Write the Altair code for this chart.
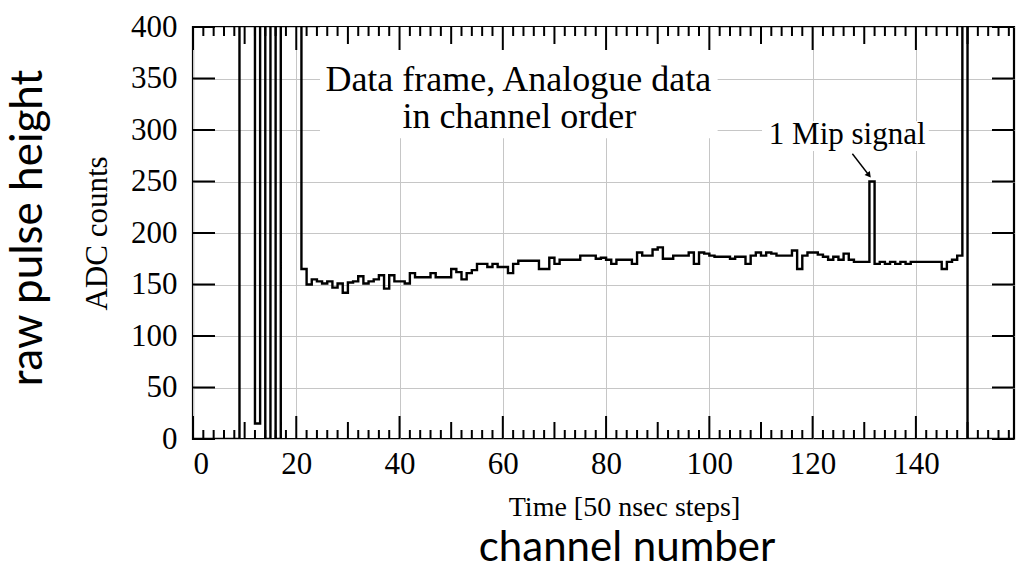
import altair as alt
import pandas as pd

# Off-scale readings (the ADC saturates above the top of the frame)
HIGH = 450

# ADC counts per channel, bins 0..158 (each value holds from its channel to the next)
adc_counts = [
    0, 0, 0, 0, 0, 0, 0, 0, 0,                 # 0-8
    HIGH, HIGH, HIGH, 15, HIGH, 0, HIGH, 0,    # 9-16
    HIGH, HIGH, HIGH, HIGH,                    # 17-20
    165, 150, 155, 153, 151, 153, 147, 151, 142, 152,   # 21-30
    153, 158, 151, 153, 155, 159, 146, 159, 153, 153,   # 31-40
    151, 161, 157, 157, 157, 161, 157, 157, 157, 165,   # 41-50
    162, 155, 161, 164, 170, 170, 167, 170, 167, 167,   # 51-60
    161, 170, 173, 173, 173, 173, 165, 165, 176, 170,   # 61-70
    174, 174, 174, 174, 178, 178, 178, 175, 176, 174,   # 71-80
    170, 174, 174, 174, 170, 181, 178, 178, 184, 186,   # 81-90
    175, 175, 178, 178, 178, 181, 170, 181, 180, 178,   # 91-100
    177, 177, 177, 175, 177, 177, 170, 178, 181, 178,   # 101-110
    181, 180, 178, 178, 178, 183, 165, 178, 181, 181,   # 111-120
    179, 177, 174, 177, 174, 180, 174, 172, 172, 172,   # 121-130
    250, 170, 172, 170, 172, 170, 172, 170, 172, 172,   # 131-140
    172, 172, 172, 172, 165, 172, 174, 178, HIGH, 0,    # 141-150
    0, 0, 0, 0, 0, 0, 0, 0,                    # 151-158
    0,                                         # closing edge at 159
]
channels = list(range(len(adc_counts)))

# Axis ticks and labels
X_MIN, X_MAX = 0, 159
Y_MIN, Y_MAX = 0, 400
x_label_values = [0, 20, 40, 60, 80, 100, 120, 140]
y_label_values = [0, 50, 100, 150, 200, 250, 300, 350, 400]
x_minor_ticks = [c for c in range(0, 159, 2) if c % 10 != 0]
x_mid_ticks = [10, 30, 50, 70, 90, 110, 130, 150]
x_major_ticks = [0, 20, 40, 60, 80, 100, 120, 140]

# Annotations (channel, ADC count)
note_lines = ["Data frame, Analogue data", "in channel order"]
note_x = [63.0, 63.2]
note_y = [337.5, 301.7]
mip_label = "1 Mip signal"
mip_label_pos = (126.7, 286.3)
arrow_start = (127.7, 276.9)
arrow_end = (130.8, 256.8)
# white boxes behind the annotations: (x1, x2, y1, y2)
boxes = [(24.6, 101.6, 292.0, 400.0), (110.2, 142.5, 279.5, 308.5)]

W, H = 821, 412
SERIF = "Liberation Serif"
SANS = "Lato"
grid_color = "#c6c6c6"

# data units per pixel, used to size the inward tick marks of the frame
ux = (X_MAX - X_MIN) / W
uy = (Y_MAX - Y_MIN) / H

xs = alt.Scale(domain=[X_MIN, X_MAX], nice=False, zero=False)
ys = alt.Scale(domain=[Y_MIN, Y_MAX], nice=False, zero=False)

x_axis = alt.Axis(
    values=x_label_values, grid=True, gridColor=grid_color, gridWidth=1,
    ticks=False, tickSize=0, domain=False, zindex=0,
    labelFont=SERIF, labelFontSize=31, labelColor="black", labelPadding=10,
    title="Time [50 nsec steps]", titleFont=SERIF, titleFontSize=28,
    titleFontWeight="normal", titleColor="black",
    titleX=431, titleY=68, titleBaseline="middle",
)
y_axis = alt.Axis(
    values=y_label_values, grid=True, gridColor=grid_color, gridWidth=1,
    ticks=False, tickSize=0, domain=False, zindex=0,
    labelFont=SERIF, labelFontSize=31, labelColor="black", labelPadding=16,
    title="ADC counts", titleFont=SERIF, titleFontSize=31,
    titleFontWeight="normal", titleColor="black",
    titleX=-96, titleY=206, titleAngle=270, titleBaseline="middle",
)


def X(field):
    return alt.X(field, scale=xs)


def Y(field):
    return alt.Y(field, scale=ys)


signal = pd.DataFrame({"channel": channels, "adc": adc_counts})
line = alt.Chart(signal).mark_line(
    interpolate="step-after", color="black", strokeWidth=2.4, clip=True
).encode(
    x=alt.X("channel:Q", scale=xs, axis=x_axis),
    y=alt.Y("adc:Q", scale=ys, axis=y_axis),
)

box_df = pd.DataFrame(boxes, columns=["channel", "x2", "adc", "y2"])
masks = alt.Chart(box_df).mark_rect(fill="white").encode(
    x=X("channel:Q"), x2="x2:Q", y=Y("adc:Q"), y2="y2:Q",
)

# Inward frame ticks: bottom/top on the time axis, left/right on the count axis
tick_rows = []
for positions, px in [(x_minor_ticks, 9), (x_mid_ticks, 17), (x_major_ticks, 23)]:
    for p in positions:
        tick_rows.append({"channel": p, "x2": p, "adc": Y_MIN, "y2": Y_MIN + px * uy})
        tick_rows.append({"channel": p, "x2": p, "adc": Y_MAX, "y2": Y_MAX - px * uy})
for v in y_label_values:
    tick_rows.append({"channel": X_MIN, "x2": X_MIN + 22 * ux, "adc": v, "y2": v})
    tick_rows.append({"channel": X_MAX, "x2": X_MAX - 22 * ux, "adc": v, "y2": v})
tick_df = pd.DataFrame(tick_rows)
frame_ticks = alt.Chart(tick_df).mark_rule(color="black", strokeWidth=2).encode(
    x=X("channel:Q"), x2="x2:Q", y=Y("adc:Q"), y2="y2:Q",
)

note_df = pd.DataFrame({"text": note_lines, "channel": note_x, "adc": note_y})
notes = alt.Chart(note_df).mark_text(
    font=SERIF, fontSize=36, align="center", baseline="alphabetic", color="black"
).encode(x=X("channel:Q"), y=Y("adc:Q"), text="text:N")

mip_df = pd.DataFrame({"text": [mip_label], "channel": [mip_label_pos[0]],
                       "adc": [mip_label_pos[1]]})
mip_text = alt.Chart(mip_df).mark_text(
    font=SERIF, fontSize=31, align="center", baseline="alphabetic", color="black"
).encode(x=X("channel:Q"), y=Y("adc:Q"), text="text:N")

arrow_df = pd.DataFrame({
    "channel": [arrow_start[0]], "adc": [arrow_start[1]],
    "x2": [arrow_end[0]], "y2": [arrow_end[1]],
})
arrow_shaft = alt.Chart(arrow_df).mark_rule(color="black", strokeWidth=1.4).encode(
    x=X("channel:Q"), y=Y("adc:Q"), x2="x2:Q", y2="y2:Q",
)
head_df = pd.DataFrame({"channel": [arrow_end[0]], "adc": [arrow_end[1]]})
arrow_head = alt.Chart(head_df).mark_point(
    shape="triangle", filled=True, color="black", size=45, angle=142, opacity=1
).encode(x=X("channel:Q"), y=Y("adc:Q"))

side_df = pd.DataFrame({"text": ["raw pulse height"]})
side_label = alt.Chart(side_df).mark_text(
    font=SANS, fontSize=44, angle=270, align="center", baseline="middle", color="black"
).encode(x=alt.value(-164), y=alt.value(201), text="text:N")

bottom_df = pd.DataFrame({"text": ["channel number"]})
bottom_label = alt.Chart(bottom_df).mark_text(
    font=SANS, fontSize=42, align="center", baseline="middle", color="black"
).encode(x=alt.value(434), y=alt.value(521), text="text:N")

chart = alt.layer(
    line, masks, frame_ticks, notes, mip_text, arrow_shaft, arrow_head,
    side_label, bottom_label,
).properties(
    width=W, height=H,
    padding={"left": 193, "top": 27, "right": 4, "bottom": 134},
    autosize=alt.AutoSizeParams(type="none"),
    background="white",
).configure_view(
    stroke="black", strokeWidth=2.2
)

chart.save("out.html", embed_options={"renderer": "svg", "actions": False})
